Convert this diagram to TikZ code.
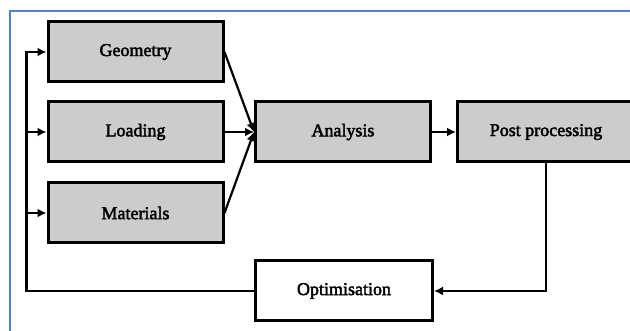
\documentclass[tikz,border=0pt]{standalone}
\usepackage{fontspec}
\setmainfont{Liberation Serif}
\newfontfamily\blokfont[FakeBold=2.5]{Liberation Serif}
\usetikzlibrary{arrows.meta}

\definecolor{boxgray}{RGB}{204,204,204}
\definecolor{frameblue}{RGB}{84,130,200}

\begin{document}
\begin{tikzpicture}[x=1pt, y=-1pt, line cap=butt, line join=miter,
    >={Latex[length=9pt,width=9pt]},
    blok/.style={draw, line width=3pt, minimum width=175pt, minimum height=60pt,
      inner sep=0pt, font=\blokfont\fontsize{18}{20}\selectfont},
    grijs/.style={blok, fill=boxgray},
    lijn/.style={line width=2.2pt}]
  % Afmetingen van het plaatje
  \useasboundingbox (0,0) rectangle (630,331);

  % Blauwe rand
  \draw[frameblue, line width=1.6pt] (10,340) -- (10,11) -- (640,11);

  % Invoer
  \node[grijs] (geo)  at (135.5,52)  {Geometry};
  \node[grijs] (load) at (135.5,132) {Loading};
  \node[grijs] (mat)  at (135.5,213) {Materials};

  % Analyse en nabewerking
  \node[grijs] (ana)  at (343,132) {Analysis};
  \node[grijs, minimum width=177pt] (post) at (546,132) {Post processing};

  % Optimalisatie
  \node[blok, minimum width=177pt] (opt) at (344,291) {Optimisation};

  % Pijlen naar de analyse
  \draw[lijn, ->] (geo.east)  -- (ana.west);
  \draw[lijn, ->] (load.east) -- (ana.west);
  \draw[lijn, ->] (mat.east)  -- (ana.west);
  \draw[lijn, ->] (ana.east)  -- (post.west);

  % Terugkoppeling
  \draw[lijn, ->] (post.south) |- (opt.east);
  \draw[lijn, ->] (opt.west) -| ([xshift=-20pt]geo.west) -- (geo.west);
  \draw[lijn, ->] ([xshift=-20pt]load.west) -- (load.west);
  \draw[lijn, ->] ([xshift=-20pt]mat.west) -- (mat.west);
\end{tikzpicture}
\end{document}
